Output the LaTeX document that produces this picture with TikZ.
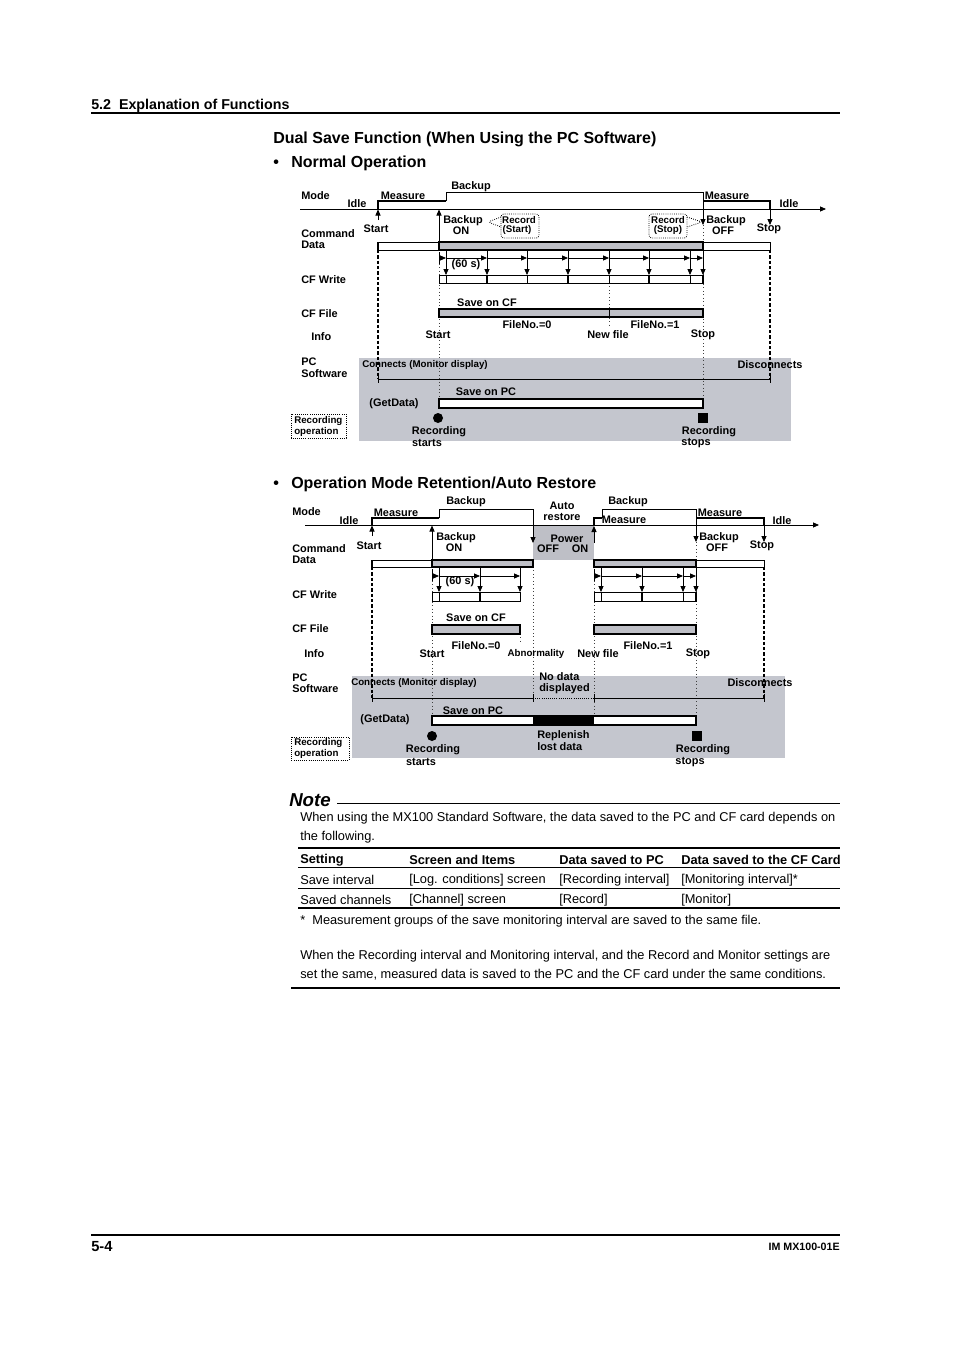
\documentclass[tikz,border=0pt]{standalone}
\usepackage{fontspec}
\setmainfont{Liberation Sans}
\usetikzlibrary{arrows.meta}
\definecolor{barg}{RGB}{190,191,198}
\definecolor{pcg}{RGB}{196,198,206}
\newcommand\dfont{\bfseries\fontsize{8.2}{9}\selectfont}
\newcommand\sfont{\bfseries\fontsize{7.3}{8}\selectfont}
\newcommand\bfont{\fontsize{9.6}{11}\selectfont}
\tikzset{
 lb/.style={font=\dfont, inner sep=0pt},
 lbw/.style={font=\dfont, inner sep=0pt, anchor=west},
 sm/.style={font=\sfont, inner sep=0pt},
 smw/.style={font=\sfont, inner sep=0pt, anchor=west},
 body/.style={font=\bfont, inner sep=0pt, anchor=west, yshift=-1.4pt},
 bodyb/.style={font=\bfont\bfseries, inner sep=0pt, anchor=west, yshift=-1.4pt},
 head/.style={font=\bfseries\fontsize{12}{13}\selectfont, inner sep=0pt, anchor=west, yshift=-2pt},
 arr/.style={line width=0.6pt, -{Triangle[length=4.5pt,width=3.8pt]}},
 ln/.style={line width=0.6pt},
 thk/.style={line width=2pt},
 dotl/.style={dotted, line width=0.6pt, black!75},
 dashl/.style={dash pattern=on 2.5pt off 1.5pt, line width=0.8pt},
 graybar/.style={line width=1pt, fill=barg},
 whitebar/.style={line width=0.6pt, fill=white},
 callout/.style={densely dotted, line width=0.6pt, rounded corners=2pt},
}
\begin{document}
\begin{tikzpicture}[x=0.75pt,y=-0.75pt]
\useasboundingbox (0,0) rectangle (954,1350);
\fill[white] (0,0) rectangle (954,1350);

% ---------- header ----------
\node[anchor=west, inner sep=0pt, yshift=-1.5pt, font=\bfseries\fontsize{10.7}{12}\selectfont] (hdr) at (91,104) {5.2\ \ Explanation of Functions};
\draw[line width=0.8pt] (91,113) -- (840,113);
\node[head] (ttl) at (273,137) {Dual Save Function (When Using the PC Software)};
\node[head] (b1) at (273,161) {\textbullet};
\node[head] (ttl1) at (291,161) {Normal Operation};

% ================= DIAGRAM 1 =================
\fill[pcg] (359,358) rectangle (791,441);
% axis
\draw[arr] (300,209) -- (826,209);
% mode waveform
\draw[thk] (378,209) -- (378,201) -- (446,201);
\draw[ln] (446,201) -- (446,192) -- (703,192) -- (703,201);
\draw[thk] (703,201) -- (770,201) -- (770,209);
% event arrows
\draw[arr] (378,220) -- (378,209.5);
\draw[arr] (439,242) -- (439,209.5);
\draw[arr] (703,201) -- (703,225);
\draw[arr] (770,209) -- (770,225);
% verticals
\draw[dashl] (378,250) -- (378,379);
\draw[dashl] (770,250) -- (770,379);
\draw[dotl] (439,250) -- (439,399);
\draw[dotl] (703,225) -- (703,399);
\draw[dotl] (609,283) -- (609,327);
% command data bar
\draw[whitebar] (378,242) rectangle (770,250);
\draw[graybar] (439,242) rectangle (703,250);
\draw[line width=1.4pt] (378,242) -- (378,250);
\draw[line width=1.4pt] (703,242) -- (703,250);
% CF write
\draw[ln] (439,252) -- (439,264);
\foreach \a/\b in {439/446,446/487,487/527,527/568,568/609,609/649,649/690,690/703}
  \draw[arr] (\a,258) -- (\b,258);
\foreach \x in {446,487,527,568,609,649,690,703}
  \draw[arr] (\x,250) -- (\x,275);
\draw[whitebar] (439,275) rectangle (703,283);
\foreach \x in {446,527,609,690} \draw[ln] (\x,275) -- (\x,283);
\foreach \x in {487,568,649,703} \draw[line width=1.3pt] (\x,275) -- (\x,283);
% CF file
\draw[graybar] (439,309) rectangle (703,317);
\draw[ln] (609,309) -- (609,317);
\draw[line width=1.4pt] (703,309) -- (703,317);
% PC software
\draw[ln] (378,379) -- (770,379);
\draw[ln] (378,375) -- (378,383);
\draw[ln] (770,375) -- (770,383);
\draw[line width=1.3pt, fill=white] (439,399) rectangle (703,408);
\fill (438,418) circle (5);
\fill (698,413) rectangle (708,423);
% callouts
\draw[callout] (501,217) -- (488,222) -- (501,227);
\draw[callout, fill=white] (501,214) rectangle (539,238);
\draw[callout] (687,217) -- (702,222) -- (687,227);
\draw[callout, fill=white] (649,214) rectangle (687,238);
% recording operation box
\draw[densely dotted, line width=0.6pt] (291,414) rectangle (346,438);

% labels diagram 1
\node[lbw] (m1) at (301,196) {Mode};
\node[lb] (i1) at (357,204) {Idle};
\node[lb] (me1) at (403,196) {Measure};
\node[lb] (bk1) at (471,187) {Backup};
\node[lb] (me2) at (727,196) {Measure};
\node[lb] (i2) at (789,204) {Idle};
\node[lbw] (cd1) at (301,234) {Command};
\node[lbw] (cd2) at (301,245) {Data};
\node[lb] (st1) at (376,229) {Start};
\node[lb] (bo1) at (463,221) {Backup};
\node[lb] (bo2) at (461,231) {ON};
\node[sm] (rs1) at (519,220) {Record};
\node[sm] (rs2) at (517,230) {(Start)};
\node[sm] (rp1) at (668,220) {Record};
\node[sm] (rp2) at (668,230) {(Stop)};
\node[lb] (bf1) at (726,221) {Backup};
\node[lb] (bf2) at (723,231) {OFF};
\node[lb] (sp1) at (769,229) {Stop};
\node[lbw] (cw1) at (301,280) {CF Write};
\node[lb] (s60a) at (466,265) {(60 s)};
\node[lbw] (cf1) at (301,314) {CF File};
\node[lb] (soc1) at (487,303) {Save on CF};
\node[lb] (fn0a) at (527,325) {FileNo.=0};
\node[lb] (fn1a) at (655,325) {FileNo.=1};
\node[lbw] (inf1) at (311,337) {Info};
\node[lb] (ist1) at (438,335) {Start};
\node[lb] (inf2) at (608,335) {New file};
\node[lb] (isp1) at (703,335) {Stop};
\node[lbw] (pc1) at (301,362) {PC};
\node[lbw] (pc2) at (301,374) {Software};
\node[smw] (con1) at (362,365) {Connects (Monitor display)};
\node[lb] (dis1) at (770,365) {Disconnects};
\node[lb] (sop1) at (486,392) {Save on PC};
\node[lb] (gd1) at (394,404) {(GetData)};
\node[lb] (rst1) at (439,432) {Recording};
\node[lb] (rst2) at (427,443) {starts};
\node[lb] (rsp1) at (709,432) {Recording};
\node[lb] (rsp2) at (696,443) {stops};
\node[smw] (ro1) at (294,421) {Recording};
\node[smw] (ro2) at (294,432) {operation};

% ================= DIAGRAM 2 =================
\node[head] (b2) at (273,482) {\textbullet};
\node[head] (ttl2) at (291,482) {Operation Mode Retention/Auto Restore};

\fill[pcg] (352,676) rectangle (785,758);
\fill[barg] (533,525) rectangle (594,560);
\draw[arr] (305,525) -- (819,525);
% waveform
\draw[thk] (372,525) -- (372,518) -- (439,518);
\draw[ln] (439,518) -- (439,509) -- (533,509) -- (533,525);
\draw[arr] (533,525) -- (533,543);
\draw[arr] (594,543) -- (594,526);
\draw[thk] (594,525) -- (594,518) -- (602,518);
\draw[ln] (602,518) -- (602,509) -- (696,509) -- (696,518);
\draw[thk] (696,518) -- (764,518) -- (764,525);
\draw[arr] (696,518) -- (696,542);
\draw[arr] (764,525) -- (764,542);
\draw[arr] (372,536) -- (372,525.5);
\draw[arr] (432,560) -- (432,525.5);
% verticals
\draw[dashl] (372,567) -- (372,698);
\draw[dashl] (764,567) -- (764,698);
\draw[dotl] (432,567) -- (432,716);
\draw[dotl] (520,634) -- (520,642);
\draw[dotl] (533,567) -- (533,698);
\draw[dotl] (594,567) -- (594,716);
\draw[dotl] (696,542) -- (696,716);
% command data bars
\draw[whitebar] (372,560) rectangle (533,567);
\draw[graybar] (432,560) rectangle (533,567);
\draw[line width=1.4pt] (372,560) -- (372,567);
\draw[line width=1.4pt] (533,560) -- (533,567);
\draw[whitebar] (594,560) rectangle (764,567);
\draw[graybar] (594,560) rectangle (696,567);
\draw[line width=1.4pt] (696,560) -- (696,567);
% CF write a
\draw[ln] (432,569) -- (432,581);
\foreach \a/\b in {432/439,439/480,480/520}
  \draw[arr] (\a,576) -- (\b,576);
\foreach \x in {439,480,520}
  \draw[arr] (\x,567) -- (\x,592);
\draw[whitebar] (432,592) rectangle (520,601);
\draw[ln] (439,592) -- (439,601);
\draw[line width=1.3pt] (480,592) -- (480,601);
% CF write b
\draw[ln] (594,569) -- (594,581);
\foreach \a/\b in {594/601,601/642,642/683,683/696}
  \draw[arr] (\a,576) -- (\b,576);
\foreach \x in {601,642,683,696}
  \draw[arr] (\x,567) -- (\x,592);
\draw[whitebar] (594,592) rectangle (696,601);
\draw[ln] (601,592) -- (601,601);
\draw[line width=1.3pt] (642,592) -- (642,601);
\draw[ln] (683,592) -- (683,601);
\draw[line width=1.3pt] (696,592) -- (696,601);
% CF file
\draw[graybar] (432,625) rectangle (520,634);
\draw[graybar] (594,625) rectangle (696,634);
% PC software
\draw[ln] (372,698) -- (533,698);
\draw[densely dotted, line width=0.6pt] (533,698) -- (594,698);
\draw[ln] (594,698) -- (764,698);
\foreach \x in {372,533,594,764} \draw[ln] (\x,694) -- (\x,702);
\draw[line width=1.3pt, fill=white] (432,716) rectangle (696,725);
\fill (533,716) rectangle (594,725);
\fill (432,736) circle (5);
\fill (692,731) rectangle (702,741);
\draw[densely dotted, line width=0.6pt] (291,737) rectangle (349,760);

% labels diagram 2
\node[lbw] (m2) at (292,512) {Mode};
\node[lb] (i3) at (349,521) {Idle};
\node[lb] (me3) at (396,513) {Measure};
\node[lb] (bk2) at (466,502) {Backup};
\node[lb] (ar1) at (562,506) {Auto};
\node[lb] (ar2) at (562,517) {restore};
\node[lb] (bk3) at (628,502) {Backup};
\node[lb] (me4) at (624,520) {Measure};
\node[lb] (me5) at (720,513) {Measure};
\node[lb] (i4) at (782,521) {Idle};
\node[lbw] (cd3) at (292,549) {Command};
\node[lbw] (cd4) at (292,560) {Data};
\node[lb] (st2) at (369,546) {Start};
\node[lb] (bo3) at (456,538) {Backup};
\node[lb] (bo4) at (454,548) {ON};
\node[lb] (pw1) at (567,539) {Power};
\node[lb] (pw2) at (548,549) {OFF};
\node[lb] (pw3) at (580,549) {ON};
\node[lb] (bf3) at (719,538) {Backup};
\node[lb] (bf4) at (717,548) {OFF};
\node[lb] (sp2) at (762,546) {Stop};
\node[lbw] (cw2) at (292,595) {CF Write};
\node[lb] (s60b) at (460,582) {(60 s)};
\node[lbw] (cf2) at (292,629) {CF File};
\node[lb] (soc2) at (476,618) {Save on CF};
\node[lb] (fn0b) at (476,646) {FileNo.=0};
\node[lb] (fn1b) at (648,646) {FileNo.=1};
\node[lbw] (inf3) at (304,654) {Info};
\node[lb] (ist2) at (432,654) {Start};
\node[sm] (abn) at (536,654) {Abnormality};
\node[lb] (nf2) at (598,654) {New file};
\node[lb] (isp2) at (698,654) {Stop};
\node[lbw] (pc3) at (292,678) {PC};
\node[lbw] (pc4) at (292,689) {Software};
\node[smw] (con2) at (351,683) {Connects (Monitor display)};
\node[lbw] (nd1) at (539,677) {No data};
\node[lbw] (nd2) at (539,689) {displayed};
\node[lb] (dis2) at (760,683) {Disconnects};
\node[lb] (sop2) at (473,711) {Save on PC};
\node[lb] (gd2) at (385,720) {(GetData)};
\node[lb] (rst3) at (433,750) {Recording};
\node[lb] (rst4) at (421,762) {starts};
\node[lbw] (rp3) at (537,736) {Replenish};
\node[lbw] (rp4) at (537,747) {lost data};
\node[lb] (rsp3) at (703,750) {Recording};
\node[lb] (rsp4) at (690,762) {stops};
\node[smw] (ro3) at (294,743) {Recording};
\node[smw] (ro4) at (294,754) {operation};

% ================= NOTE =================
\node[anchor=west, inner sep=0pt, yshift=-1.5pt, font=\bfseries\itshape\fontsize{14}{16}\selectfont] (note) at (289,798) {Note};
\draw[line width=0.7pt] (337,803) -- (840,803);
\node[body] (p1) at (300,816) {When using the MX100 Standard Software, the data saved to the PC and CF card depends on};
\node[body] (p2) at (300,835) {the following.};
\draw[line width=1pt] (298,848) -- (840,848);
\node[bodyb] (h1) at (300,858) {Setting};
\node[bodyb] (h2) at (409,858) {Screen and Items};
\node[bodyb] (h3) at (559,858) {Data saved to PC};
\node[bodyb] (h4) at (681,858) {Data saved to the CF Card};
\draw[line width=0.6pt] (298,867) -- (840,867);
\node[body] (r11) at (300,878) {Save interval};
\node[body] (r12) at (409,878) {[Log. conditions] screen};
\node[body] (r13) at (559,878) {[Recording interval]};
\node[body] (r14) at (681,878) {[Monitoring interval]*};
\draw[line width=0.6pt] (298,888) -- (840,888);
\node[body] (r21) at (300,898) {Saved channels};
\node[body] (r22) at (409,898) {[Channel] screen};
\node[body] (r23) at (559,898) {[Record]};
\node[body] (r24) at (681,898) {[Monitor]};
\draw[line width=1pt] (298,908) -- (840,908);
\node[body] (fn) at (300,919) {*\ \ Measurement groups of the save monitoring interval are saved to the same file.};
\node[body] (p3) at (300,954) {When the Recording interval and Monitoring interval, and the Record and Monitor settings are};
\node[body] (p4) at (300,973) {set the same, measured data is saved to the PC and the CF card under the same conditions.};
\draw[line width=1.4pt] (291,988) -- (840,988);

% ================= FOOTER =================
\draw[line width=0.8pt] (91,1235) -- (840,1235);
\node[anchor=west, inner sep=0pt, yshift=-1pt, font=\bfseries\fontsize{11}{12}\selectfont] (pg) at (91,1245) {5-4};
\node[anchor=east, inner sep=0pt, yshift=-1pt, font=\bfseries\fontsize{8}{9}\selectfont] (im) at (840,1245) {IM MX100-01E};
\end{tikzpicture}
\end{document}
